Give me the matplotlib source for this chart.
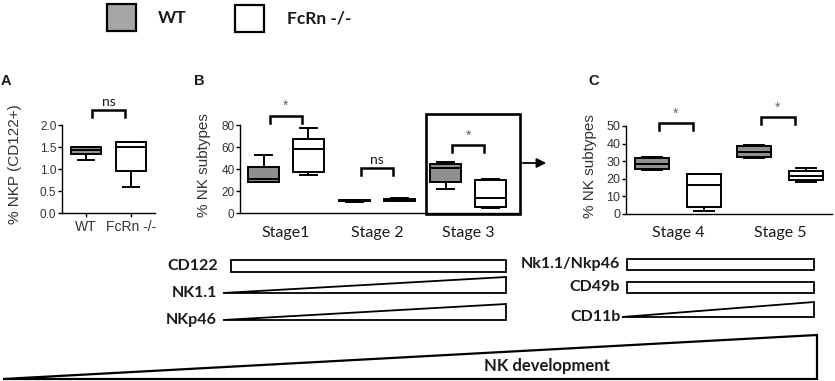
import matplotlib
matplotlib.use('Agg')
import matplotlib.pyplot as plt
from matplotlib.patches import Rectangle, Polygon

plt.rcParams['font.family'] = 'Liberation Sans'

W, H = 835, 381
GRAY = '#a6a6a6'
BOX_GRAY = '#8f8f8f'
INK = '#1a1a1a'

# --- data: [whisker low, Q1, median, Q3, whisker high] ---
a_groups = ['WT', 'FcRn -/-']
a_wt = [1.20, 1.34, 1.43, 1.49, 1.49]
a_ko = [0.60, 0.95, 1.51, 1.62, 1.62]
a_sig = 'ns'
a_sig_y = 2.34

b_stages = ['Stage1', 'Stage 2', 'Stage 3']
b_wt = [[28.0, 28.5, 30.6, 42.0, 52.5],
        [10.0, 10.5, 11.0, 11.5, 12.0],
        [21.8, 28.5, 40.6, 44.3, 46.6]]
b_ko = [[34.5, 37.0, 57.8, 67.6, 77.0],
        [10.5, 11.0, 12.0, 13.0, 13.5],
        [5.0, 5.2, 13.3, 30.0, 30.9]]
b_sig = ['*', 'ns', '*']
b_sig_y = [88.2, 40.9, 61.8]

c_stages = ['Stage 4', 'Stage 5']
c_wt = [[25.0, 25.7, 28.4, 31.8, 32.2],
        [31.8, 32.4, 35.2, 38.4, 39.2]]
c_ko = [[1.5, 3.8, 16.6, 22.9, 22.9],
        [18.4, 19.1, 21.4, 24.2, 26.1]]
c_sig = ['*', '*']
c_sig_y = [51.7, 55.1]

left_markers = ['CD122', 'NK1.1', 'NKp46']
left_shapes = ['bar', 'ramp', 'ramp']
right_markers = ['Nk1.1/Nkp46', 'CD49b', 'CD11b']
right_shapes = ['bar', 'bar', 'ramp']


fig = plt.figure(figsize=(W / 100, H / 100), dpi=100)
fig.patch.set_facecolor('white')


def px_axes(x0, y0, x1, y1):
    return fig.add_axes([x0 / W, 1 - y1 / H, (x1 - x0) / W, (y1 - y0) / H])


def to_stats(v):
    lo, q1, med, q3, hi = v
    return dict(whislo=lo, q1=q1, med=med, q3=q3, whishi=hi, fliers=[])


def draw_boxes(ax, pos, vals, color, width):
    lw = 1.4
    ax.bxp([to_stats(v) for v in vals], positions=pos, widths=width,
           patch_artist=True, showfliers=False, manage_ticks=False,
           capwidths=width * 0.55,
           boxprops=dict(facecolor=color, edgecolor='black', linewidth=lw),
           medianprops=dict(color='black', linewidth=lw),
           whiskerprops=dict(color='black', linewidth=lw),
           capprops=dict(color='black', linewidth=lw))


def bracket(ax, x, top, half, leg, label):
    ax.plot([x - half, x - half, x + half, x + half], [top - leg, top, top, top - leg],
            color='black', lw=1.8, clip_on=False, solid_joinstyle='miter')
    if label == '*':
        ax.annotate('*', (x, top), xytext=(0, 7), textcoords='offset points',
                    ha='center', va='center', fontsize=10, color='#666666',
                    annotation_clip=False)
    else:
        ax.annotate(label, (x, top), xytext=(0, 1.5), textcoords='offset points',
                    ha='center', va='bottom', fontsize=10, color=INK, family='Lato',
                    annotation_clip=False)


def style_axis(ax, ylim, yticks):
    ax.set_facecolor('none')
    ax.set_ylim(*ylim)
    ax.set_yticks(yticks)
    for s in ['top', 'right']:
        ax.spines[s].set_visible(False)
    for s in ['left', 'bottom']:
        ax.spines[s].set_linewidth(1.0)
    ax.tick_params(axis='y', length=3, width=1.0, pad=1, labelsize=8.5, labelcolor='#333333')


# ---------- panel A ----------
axA = px_axes(62, 125, 155, 213)
style_axis(axA, (0, 2.0), [0.0, 0.5, 1.0, 1.5, 2.0])
axA.yaxis.set_major_formatter(matplotlib.ticker.FormatStrFormatter('%.1f'))
draw_boxes(axA, [1], [a_wt], BOX_GRAY, 0.66)
draw_boxes(axA, [2], [a_ko], 'white', 0.66)
axA.set_xlim(0.47, 2.53)
axA.set_xticks([1, 2])
axA.set_xticklabels(a_groups)
axA.tick_params(axis='x', length=3, width=1.0, pad=2, labelsize=10, labelcolor='#333333')
bracket(axA, 1.5, a_sig_y, 0.36, 0.16, a_sig)
axA.set_ylabel('% NKP (CD122+)', fontsize=11, color='#333333', va='center')
axA.yaxis.set_label_coords(-0.50, 0.55)

# ---------- panel B ----------
axB = px_axes(240, 125, 520, 213)
style_axis(axB, (0, 80), [0, 20, 40, 60, 80])
posB = list(range(1, len(b_stages) + 1))
off = 0.245
draw_boxes(axB, [p - off for p in posB], b_wt, BOX_GRAY, 0.34)
draw_boxes(axB, [p + off for p in posB], b_ko, 'white', 0.34)
axB.set_xlim(0.495, 3.57)
axB.set_xticks(posB)
axB.set_xticklabels(b_stages, family='Lato', fontsize=11.5, color=INK)
axB.tick_params(axis='x', length=0, pad=9)
for p, s, y in zip(posB, b_sig, b_sig_y):
    bracket(axB, p, y, 0.18, 6.5, s)
axB.set_ylabel('% NK subtypes', fontsize=11, color='#333333', va='center')
axB.yaxis.set_label_coords(-0.129, 0.55)

# ---------- panel C ----------
axC = px_axes(626, 126, 832, 214)
style_axis(axC, (0, 50), [0, 10, 20, 30, 40, 50])
posC = list(range(1, len(c_stages) + 1))
offc = 0.255
draw_boxes(axC, [p - offc for p in posC], c_wt, BOX_GRAY, 0.34)
draw_boxes(axC, [p + offc for p in posC], c_ko, 'white', 0.34)
axC.set_xlim(0.49, 2.51)
axC.set_xticks(posC)
axC.set_xticklabels(c_stages, family='Lato', fontsize=11.5, color=INK)
axC.tick_params(axis='x', length=0, pad=9)
axC.tick_params(axis='y', labelsize=9)
for p, s, y in zip(posC, c_sig, c_sig_y):
    bracket(axC, p - 0.02, y, 0.165, 4.0, s)
axC.set_ylabel('% NK subtypes', fontsize=11, color='#333333', va='center')
axC.yaxis.set_label_coords(-0.175, 0.55)

# ---------- overlay: legend, panel letters, schematic ----------
ov = fig.add_axes([0, 0, 1, 1])
ov.set_xlim(0, W)
ov.set_ylim(H, 0)
ov.axis('off')
ov.patch.set_visible(False)

ov.add_patch(Rectangle((107, 4), 29, 27, facecolor=GRAY, edgecolor='black', lw=1.6))
ov.add_patch(Rectangle((235, 5), 29, 27, facecolor='white', edgecolor='black', lw=1.6))
ov.text(158, 18, 'WT', family='Lato', weight='bold', fontsize=12.5, ha='left', va='center', color=INK)
ov.text(287, 18, 'FcRn -/-', family='Lato', weight='bold', fontsize=12.5, ha='left', va='center', color=INK)

for letter, x in zip(['A', 'B', 'C'], [6, 199, 594]):
    ov.text(x, 81, letter, fontsize=10.5, weight='bold', ha='center', va='center', color=INK)

# stage 3 highlight box + arrow to panel C
ov.add_patch(Rectangle((426, 114), 94, 100, fill=False, edgecolor='black', lw=1.9))
ov.annotate('', xy=(549, 163), xytext=(520, 163),
            arrowprops=dict(arrowstyle='-|>', color='black', lw=1.3, mutation_scale=14))

sch_lw = 1.3
left_rows = [266, 293, 320]
for name, shape, y in zip(left_markers, left_shapes, left_rows):
    if shape == 'bar':
        ov.add_patch(Rectangle((231, y - 6), 275, 12, fill=False, edgecolor='black', lw=sch_lw))
        ov.text(218, y, name, family='Lato', weight='bold', fontsize=11.5, ha='right', va='center', color=INK)
    else:
        ov.add_patch(Polygon([(223, y), (506, y - 16), (506, y)], closed=True, fill=False,
                             edgecolor='black', lw=sch_lw, joinstyle='miter'))
        ov.text(217, y, name, family='Lato', weight='bold', fontsize=11.5, ha='right', va='center', color=INK)

right_rows = [264, 287, 317]
for name, shape, y in zip(right_markers, right_shapes, right_rows):
    if shape == 'bar':
        ov.add_patch(Rectangle((627, y - 5.5), 187, 11, fill=False, edgecolor='black', lw=sch_lw))
        ov.text(620, y, name, family='Lato', weight='bold', fontsize=11.5, ha='right', va='center', color=INK)
    else:
        ov.add_patch(Polygon([(622, y), (814, y - 15), (814, y)], closed=True, fill=False,
                             edgecolor='black', lw=sch_lw, joinstyle='miter'))
        ov.text(621, y, name, family='Lato', weight='bold', fontsize=11.5, ha='right', va='center', color=INK)

ov.add_patch(Polygon([(3, 379), (817, 335), (817, 379)], closed=True, fill=False,
                     edgecolor='black', lw=1.6, joinstyle='miter'))
ov.text(547, 366, 'NK development', family='Lato', weight='bold', fontsize=12, ha='center', va='center', color=INK)

fig.savefig('out.png', dpi=100)
